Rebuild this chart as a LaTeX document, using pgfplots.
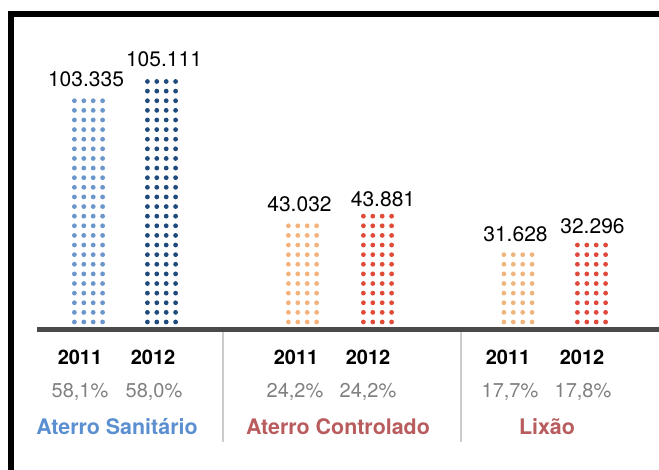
\documentclass[border=0pt]{standalone}
\usepackage{pgfplots}
\pgfplotsset{compat=1.18}
\usepackage{fontspec}
\setmainfont{TeX Gyre Heros}
\definecolor{asA}{HTML}{6A96CC}
\definecolor{asB}{HTML}{1F4A7C}
\definecolor{acA}{HTML}{F4B27C}
\definecolor{acB}{HTML}{E04A36}
\definecolor{lxA}{HTML}{EEB67E}
\definecolor{lxB}{HTML}{E0483C}
\definecolor{grpBlue}{HTML}{5B8FD0}
\definecolor{grpRed}{HTML}{B85C5E}
\definecolor{pctGray}{HTML}{808080}
\definecolor{baseGray}{HTML}{4A4A4A}
\definecolor{sepGray}{HTML}{CCCCCC}
\tikzset{dotfill/.style={path picture={%
  \pgfsetfillcolor{#1}%
  \pgfpointanchor{path picture bounding box}{south west}%
  \pgfgetlastxy{\bx}{\by}%
  \foreach \i in {0,1,2,3}{\foreach \j in {0,...,27}{%
    \pgfmathsetmacro\px{\bx+1.2+\i*4.7}%
    \pgfmathsetmacro\py{\by+2.75+\j*4.81}%
    \pgfpathcircle{\pgfpoint{\px pt}{\py pt}}{1.2pt}%
    \pgfusepath{fill}}}}}}
\begin{document}
\begin{tikzpicture}
\path[use as bounding box] (0,0) rectangle (329.5pt,235pt);
\begin{axis}[at={(0pt,0pt)}, anchor=south west, scale only axis,
  width=329.5pt, height=235pt, xmin=0, xmax=659, ymin=-142.5, ymax=327.5,
  hide axis, clip=false,
  dotbar/.style n args={3}{ybar, bar width=33, bar shift=0pt, draw=none, fill=none,
    dotfill=#1, point meta=explicit symbolic, nodes near coords,
    every node near coord/.append style={anchor=base, inner sep=0pt, xshift=#2, yshift=#3,
      font=\fontsize{10.5}{12}\selectfont, text=black}}]
% frame
\draw[line width=3pt, black, line join=miter] (axis cs:11,-142.5) -- (axis cs:11,313.5) -- (axis cs:659,313.5);
% baseline
\draw[line width=2.2pt, baseGray] (axis cs:37,-2) -- (axis cs:659,-2);
% separators
\draw[line width=1pt, sepGray] (axis cs:223,-4.5) -- (axis cs:223,-114.5);
\draw[line width=1pt, sepGray] (axis cs:461,-4.5) -- (axis cs:461,-114.5);
% bars (heights in picture units, labels = values)
\addplot[dotbar={asA}{-1.25pt}{5.8pt}] coordinates {(88.5,228.9) [103.335]};
\addplot[dotbar={asB}{1.25pt}{5.8pt}] coordinates {(161.5,248.9) [105.111]};
\addplot[dotbar={acA}{-1.5pt}{4.3pt}] coordinates {(302.5,106.9) [43.032]};
\addplot[dotbar={acB}{2.75pt}{3.5pt}] coordinates {(377.5,113.5) [43.881]};
\addplot[dotbar={lxA}{-1.25pt}{4.5pt}] coordinates {(518,76.5) [31.628]};
\addplot[dotbar={lxB}{0.5pt}{3.5pt}] coordinates {(591.5,86.5) [32.296]};
% years
\begin{scope}[every node/.style={anchor=base, inner sep=0pt, font=\fontsize{10}{12}\selectfont\bfseries}]
\node at (axis cs:80,-37.5) {2011};
\node at (axis cs:153,-37.5) {2012};
\node at (axis cs:296,-37.5) {2011};
\node at (axis cs:368,-37.5) {2012};
\node at (axis cs:508,-37.5) {2011};
\node at (axis cs:582,-37.5) {2012};
\end{scope}
\begin{scope}[every node/.style={anchor=base, inner sep=0pt, text=pctGray, font=\fontsize{10}{12}\selectfont}]
\node at (axis cs:80,-70.5) {58,1\%};
\node at (axis cs:154,-70.5) {58,0\%};
\node at (axis cs:295,-70.5) {24,2\%};
\node at (axis cs:368,-70.5) {24,2\%};
\node at (axis cs:510,-70.5) {17,7\%};
\node at (axis cs:583,-70.5) {17,8\%};
\end{scope}
\begin{scope}[every node/.style={anchor=base, inner sep=0pt, font=\fontsize{10.7}{12}\selectfont\bfseries}]
\node[text=grpBlue] at (axis cs:117,-107.5) {Aterro Sanitário};
\node[text=grpRed] at (axis cs:338,-107.5) {Aterro Controlado};
\node[text=grpRed] at (axis cs:547,-107.5) {Lixão};
\end{scope}
\end{axis}
\end{tikzpicture}
\end{document}
